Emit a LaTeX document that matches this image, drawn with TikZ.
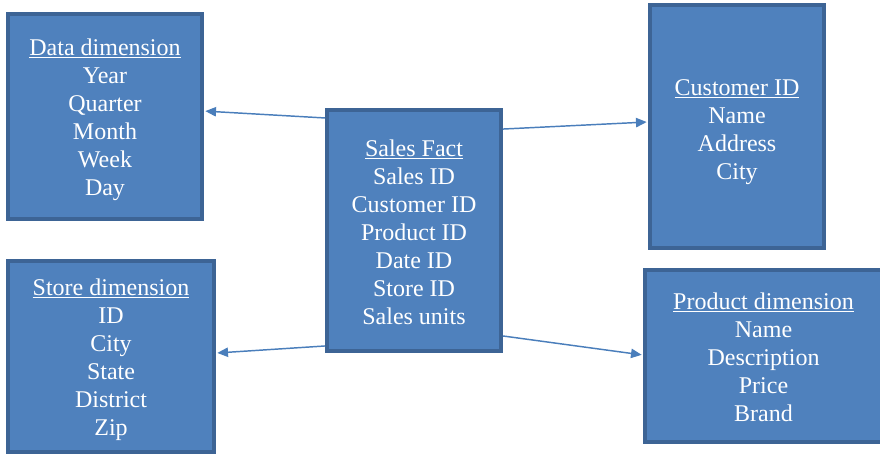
\documentclass[tikz,border=0pt]{standalone}
\usepackage{fontspec}
\setmainfont{Liberation Serif}
\usetikzlibrary{arrows.meta}
\definecolor{boxfill}{HTML}{4F81BD}
\definecolor{boxline}{HTML}{3D6495}
\definecolor{arrowc}{HTML}{4A7EBB}
\newcommand\hdline[2]{\rule{0pt}{#1}\underline{#2}}
\tikzset{
  dimbox/.style={draw=boxline, fill=boxfill, line width=3pt, text=white, align=center,
    font=\fontsize{18}{21}\selectfont, inner sep=0pt},
  link/.style={draw=arrowc, line width=1.1pt, -{Triangle[length=8pt,width=7pt]}, shorten >=1pt}
}
\begin{document}
\begin{tikzpicture}[x=0.75pt,y=-0.75pt]
\useasboundingbox (0,0) rectangle (880,455);
\node[dimbox, minimum width=145.5pt, minimum height=153.75pt] (data) at (105,116.5)
  {\hdline{17.6pt}{Data dimension}\\Year\\Quarter\\Month\\Week\\Day};
\node[dimbox, minimum width=130.5pt, minimum height=180.75pt] (fact) at (414,230.5)
  {\hdline{15.4pt}{Sales Fact}\\Sales ID\\Customer ID\\Product ID\\Date ID\\Store ID\\Sales units};
\node[dimbox, minimum width=130.5pt, minimum height=182.25pt] (cust) at (737,126.5)
  {\hdline{19.9pt}{Customer ID}\\Name\\Address\\City};
\node[dimbox, minimum width=154.5pt, minimum height=143.25pt] (store) at (111,356.5)
  {\hdline{16.9pt}{Store dimension}\\ID\\City\\State\\District\\Zip};
\node[dimbox, minimum width=177.75pt, minimum height=129pt] (prod) at (763.5,356)
  {\hdline{13.9pt}{Product dimension}\\Name\\Description\\Price\\Brand};
\draw[link] ([yshift=84.4pt]fact.west) -- ([yshift=4.1pt]data.east);
\draw[link] ([yshift=76.1pt]fact.east) -- ([yshift=3.4pt]cust.west);
\draw[link] ([yshift=-86.6pt]fact.west) -- ([yshift=2.6pt]store.east);
\draw[link] ([yshift=-79.1pt]fact.east) -- ([yshift=0.75pt]prod.west);
\end{tikzpicture}
\end{document}
